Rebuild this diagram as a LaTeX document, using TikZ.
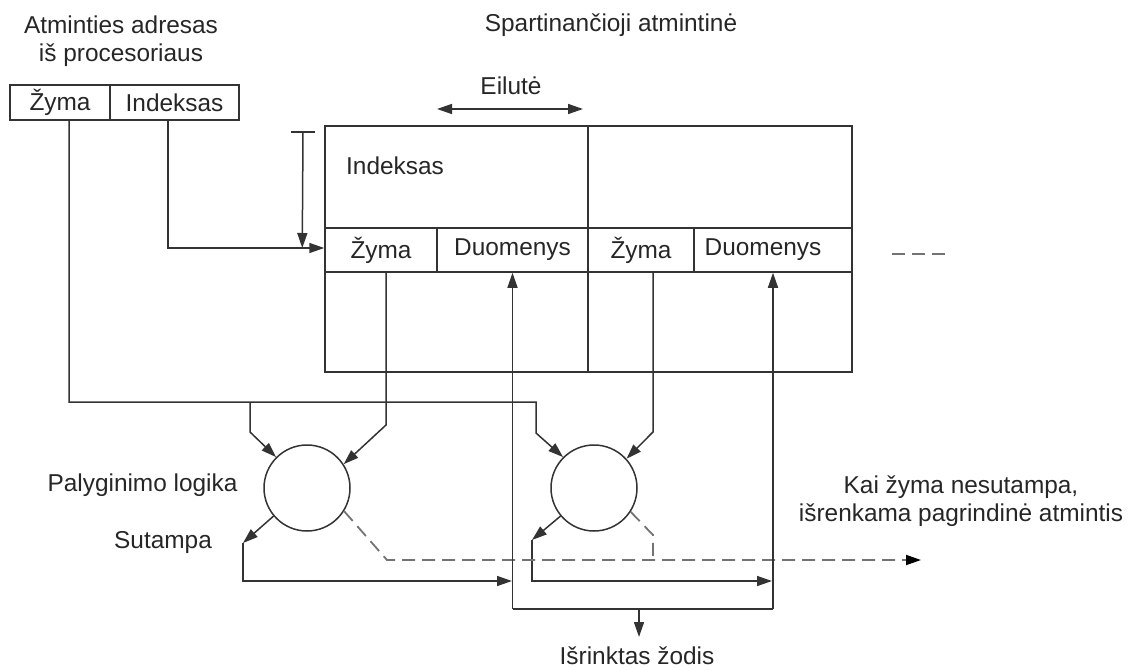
\documentclass[tikz,border=0pt]{standalone}
\usepackage{fontspec}
\setmainfont{Liberation Sans}
\usetikzlibrary{arrows.meta}

\begin{document}
\begin{tikzpicture}[x=1pt,y=-1pt,>={Triangle[length=15pt,width=10pt]},
  font=\fontsize{24.4}{28}\selectfont,
  every node/.style={text=black!85},
  ln/.style={draw=black!80,line width=1.5pt},
  cell/.style={ln,rectangle,inner sep=0pt,minimum height=44pt},
  cmp/.style={ln,circle,inner sep=0pt,minimum size=86pt},
  dashln/.style={draw=black!55,line width=1.8pt,dash pattern=on 13pt off 7pt}]
  \useasboundingbox (0,0) rectangle (1129,671);
  % address from the processor
  \node[align=center] (addr) at (121,41) {Atminties adresas\\iš procesoriaus};
  \node[cell,minimum width=100pt,minimum height=35pt] (tagA) at (60,102.5) {Žyma};
  \node[cell,minimum width=129pt,minimum height=35pt] (idxA) at (174.5,102.5) {Indeksas};
  % cache
  \node (cache) at (611,25) {Spartinančioji atmintinė};
  \node (rowlbl) at (511,86) {Eilutė};
  \draw[ln,<->] (437,109) -- (583,109);
  \draw[ln] (325,126) rectangle (852,372);
  \draw[ln] (588,126) -- (588,372);
  \node (setlbl) at (395,166) {Indeksas};
  \node[cell,minimum width=112pt] (tag1) at (381,250) {Žyma};
  \node[cell,minimum width=151pt] (dat1) at (512.5,250) {Duomenys};
  \node[cell,minimum width=106pt] (tag2) at (641,250) {Žyma};
  \node[cell,minimum width=158pt] (dat2) at (773,250) {};
  \node (dat2lbl) at (763,250) {Duomenys};
  \draw[dashln] (892,254) -- (947,254);
  % index selects the row
  \draw[ln] (291,132) -- (315,132);
  \draw[ln,->] (303,132) -- ([xshift=-22pt,yshift=2pt]tag1.west);
  \draw[ln,->] ([xshift=-6.5pt]idxA.south) |- ([yshift=2pt]tag1.west);
  % comparators
  \node[cmp] (cmp1) at (307,488) {};
  \node[cmp] (cmp2) at (594,488) {};
  \node (cmplbl) at (142.5,485) {Palyginimo logika};
  \node (hitlbl) at (163,543) {Sutampa};
  \draw[ln,->] ([xshift=9pt]tagA.south) |- (536,402) -- (536,433) -- (cmp2.135);
  \draw[ln,->] (250,402) -- (250,432) -- (cmp1.135);
  \draw[ln,->] ([xshift=5pt]tag1.south) -- (386,425) -- (cmp1.33);
  \draw[ln,->] ([xshift=12pt]tag2.south) -- (653,432) -- (cmp2.42);
  % match paths
  \coordinate (hit1) at (243,543);
  \coordinate (hit2) at (532,540);
  \draw[ln,->] (cmp1.220) -- (hit1);
  \draw[ln,->] (hit1) -- (243,581) -- (512,581);
  \draw[ln,->] (cmp2.220) -- (hit2);
  \draw[ln,->] (hit2) -- (532,581) -- (772,581);
  % miss path
  \draw[dashln,-{Triangle[length=15pt,width=10pt,black]}] (cmp1.-32) -- (387,560) -- (921,560);
  \draw[dashln] (cmp2.-33) -- (653,535) -- (653,560);
  \node[align=center] (misslbl) at (961,501) {Kai žyma nesutampa,\\išrenkama pagrindinė atmintis};
  % selected word
  \coordinate (sel) at (639,609);
  \draw[ln] (dat1.south |- sel) -- (dat2.south |- sel);
  \draw[ln,<-] (dat1.south) -- (dat1.south |- sel);
  \draw[ln,<-] (dat2.south) -- (dat2.south |- sel);
  \draw[ln,->] (sel) -- ++(0,28);
  \node (word) at (637,656) {Išrinktas žodis};
\end{tikzpicture}
\end{document}
